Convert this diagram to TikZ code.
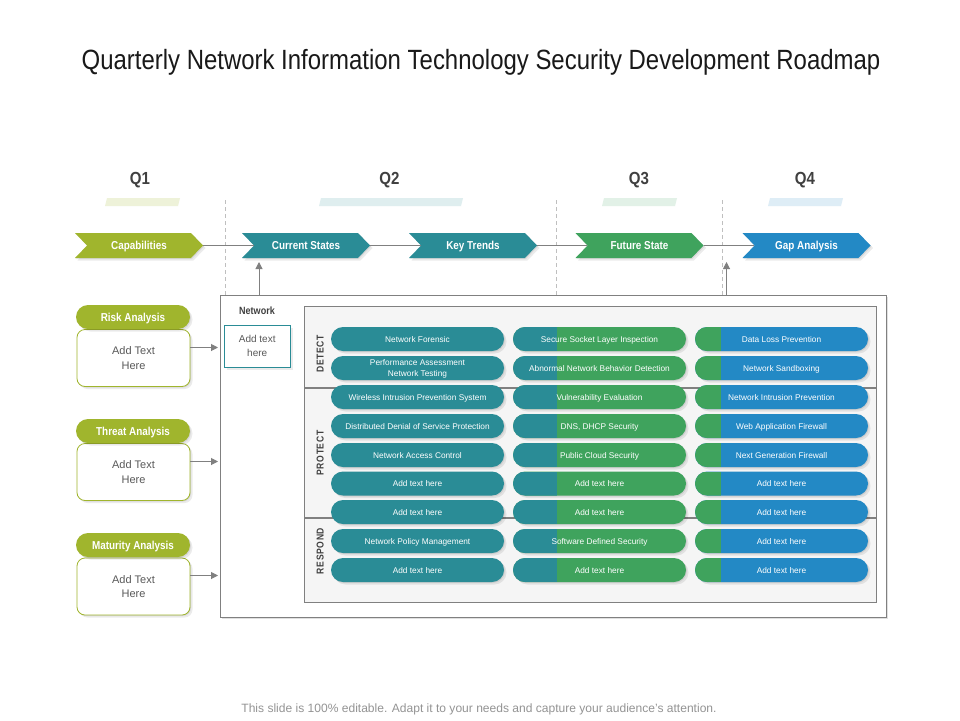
\documentclass[tikz,border=0pt]{standalone}
\usepackage{fontspec}
\setmainfont{Liberation Sans}
\newfontfamily\cond[FakeStretch=0.86]{Liberation Sans}
\newfontfamily\condsp[FakeStretch=0.86,LetterSpace=6]{Liberation Sans}
\usetikzlibrary{shapes.symbols,shadows,arrows.meta,calc}
\definecolor{tealc}{HTML}{2A8C96}
\definecolor{greenc}{HTML}{3FA35D}
\definecolor{bluec}{HTML}{2389C5}
\definecolor{olivec}{HTML}{A0B52D}
\definecolor{linec}{HTML}{808080}
\tikzset{
  x=1pt,y=-1pt,
  softshadow/.style={drop shadow={shadow xshift=1pt,shadow yshift=-1pt,fill=black,opacity=.08},
                     drop shadow={shadow xshift=2.5pt,shadow yshift=-2.5pt,fill=black,opacity=.08}},
  chev/.style={signal,signal to=east,signal from=west,signal pointer angle=92,
     minimum width=128pt,minimum height=25pt,inner sep=0pt,fill=#1,text=white,softshadow,
     text height=8.3pt,text depth=0pt,
     font=\cond\bfseries\fontsize{11.5}{13}\selectfont},
  conn/.style={draw=linec,line width=1pt},
  arrowc/.style={conn,-{Triangle[length=7pt,width=7pt,fill=linec]}},
  qlabel/.style={text height=12.5pt,text depth=0pt,font=\cond\bfseries\fontsize{17.5}{20}\selectfont,text=black!75},
  qbar/.style={fill=#1,draw=none},
  vdash/.style={draw=black!25,dash pattern=on 4pt off 3pt,line width=.7pt},
  pillbase/.style={minimum width=173pt,minimum height=24pt,inner sep=0pt,rounded corners=12pt,
     text=white,align=center,softshadow,text height=6pt,text depth=0pt,font=\fontsize{8.3}{11}\selectfont},
  pilla/.style={pillbase,fill=tealc},
  pillb/.style={pillbase,fill=greenc,path picture={\fill[tealc,sharp corners] (path picture bounding box.south west) rectangle ([xshift=44pt]path picture bounding box.north west);}},
  pillc/.style={pillbase,fill=bluec,path picture={\fill[greenc,sharp corners] (path picture bounding box.south west) rectangle ([xshift=26pt]path picture bounding box.north west);}},
  headpill/.style={minimum width=114pt,minimum height=24pt,inner sep=0pt,rounded corners=12pt,fill=olivec,text=white,softshadow,
     text height=8.3pt,text depth=0pt,font=\cond\bfseries\fontsize{11.5}{13}\selectfont},
  bodybox/.style={minimum width=113pt,minimum height=57pt,inner sep=0pt,rounded corners=8pt,draw=olivec,fill=white,line width=.8pt,softshadow,
     align=center,text=black!65,text height=22.2pt,text depth=0pt,font=\fontsize{11}{14.2}\selectfont},
  sidelabel/.style={rotate=90,text=black!75,text height=7pt,text depth=0pt,font=\condsp\bfseries\fontsize{10}{12}\selectfont},
}
\begin{document}
\begin{tikzpicture}
\useasboundingbox (0,0) rectangle (960,720);
\fill[white] (0,0) rectangle (960,720);

\node[text height=20pt,text depth=0pt,font=\cond\fontsize{27.85}{32}\selectfont,text=black!90] (title) at (481,59.5) {Quarterly Network Information Technology Security Development Roadmap};

\node[qlabel] (q1) at (140,178) {Q1};
\node[qlabel] (q2) at (389.5,178) {Q2};
\node[qlabel] (q3) at (639,178) {Q3};
\node[qlabel] (q4) at (805,178) {Q4};

\fill[qbar=olivec!18] (107,198) -- (180,198) -- (178,206) -- (105,206) -- cycle;
\fill[qbar=tealc!15] (321,198) -- (463,198) -- (461,206) -- (319,206) -- cycle;
\fill[qbar=greenc!15] (604,198) -- (677,198) -- (675,206) -- (602,206) -- cycle;
\fill[qbar=bluec!15] (770,198) -- (843,198) -- (841,206) -- (768,206) -- cycle;

\draw[vdash] (225,200) -- (225,295);
\draw[vdash] (556.5,200) -- (556.5,295);
\draw[vdash] (722,200) -- (722,295);

% chevrons
\node[chev=olivec] (cap) at (139,245.5) {Capabilities};
\node[chev=tealc] (cur) at (306,245.5) {Current States};
\node[chev=tealc] (key) at (473,245.5) {Key Trends};
\node[chev=greenc] (fut) at (639.5,245.5) {Future State};
\node[chev=bluec] (gap) at (806.5,245.5) {Gap Analysis};
\draw[conn] (cap.east) -- (cur.west);
\draw[conn] (cur.east) -- (key.west);
\draw[conn] (key.east) -- (fut.west);
\draw[conn] (fut.east) -- (gap.west);

% frames
\node[draw=linec,fill=white,line width=1pt,minimum width=666pt,minimum height=322pt,inner sep=0pt,
      drop shadow={shadow xshift=2pt,shadow yshift=-2pt,fill=black,opacity=.12}] (outer) at (553,456) {};
\node[draw=linec,fill=black!4,line width=.8pt,minimum width=572pt,minimum height=296pt,inner sep=0pt] (inner) at (590.5,454) {};
\draw[linec,line width=1.4pt] (inner.west |- 0,388) -- (inner.east |- 0,388);
\draw[linec,line width=1.4pt] (inner.west |- 0,518) -- (inner.east |- 0,518);

\coordinate (up1) at (259,262);
\coordinate (up2) at (726.5,262);
\draw[arrowc] (259,295) -- (up1);
\draw[arrowc] (726.5,295) -- (up2);

\node[text height=7.5pt,text depth=0pt,font=\cond\bfseries\fontsize{10.5}{12}\selectfont,text=black!75] (net) at (257,311) {Network};
\node[draw=tealc,fill=white,line width=.9pt,minimum width=66pt,minimum height=42pt,inner sep=0pt,align=center,softshadow,
      text=black!65,text height=20.7pt,text depth=0pt,font=\fontsize{10}{13.5}\selectfont] (netbox) at (257.2,346) {Add text\\here};

\node[sidelabel] (det) at (320,354) {DETECT};
\node[sidelabel] (pro) at (320,453) {PROTECT};
\node[sidelabel] (res) at (320,551) {RESPOND};

% side blocks
\node[bodybox] (b1) at (133.5,358) {Add Text\\Here};
\node[headpill] (h1) at (133,317) {Risk Analysis};
\node[bodybox] (b2) at (133.5,472) {Add Text\\Here};
\node[headpill] (h2) at (133,431) {Threat Analysis};
\node[bodybox] (b3) at (133.5,586.5) {Add Text\\Here};
\node[headpill] (h3) at (133,545) {Maturity Analysis};
\coordinate (t1) at (218,347.5);
\coordinate (t2) at (218,461.5);
\coordinate (t3) at (218,575.5);
\draw[arrowc] (b1.east |- t1) -- (t1);
\draw[arrowc] (b2.east |- t2) -- (t2);
\draw[arrowc] (b3.east |- t3) -- (t3);

% pills
\node[pilla] (a1) at (417.5,339) {Network Forensic};
\node[pilla,text height=17pt] (a2) at (417.5,368) {Performance Assessment\\Network Testing};
\node[pilla] (a3) at (417.5,397) {Wireless Intrusion Prevention System};
\node[pilla] (a4) at (417.5,426) {Distributed Denial of Service Protection};
\node[pilla] (a5) at (417.5,455) {Network Access Control};
\node[pilla] (a6) at (417.5,483.5) {Add text here};
\node[pilla] (a7) at (417.5,512) {Add text here};
\node[pilla] (a8) at (417.5,541) {Network Policy Management};
\node[pilla] (a9) at (417.5,570) {Add text here};

\node[pillb] (m1) at (599.5,339) {Secure Socket Layer Inspection};
\node[pillb] (m2) at (599.5,368) {Abnormal Network Behavior Detection};
\node[pillb] (m3) at (599.5,397) {Vulnerability Evaluation};
\node[pillb] (m4) at (599.5,426) {DNS, DHCP Security};
\node[pillb] (m5) at (599.5,455) {Public Cloud Security};
\node[pillb] (m6) at (599.5,483.5) {Add text here};
\node[pillb] (m7) at (599.5,512) {Add text here};
\node[pillb] (m8) at (599.5,541) {Software Defined Security};
\node[pillb] (m9) at (599.5,570) {Add text here};

\node[pillc] (c1) at (781.5,339) {Data Loss Prevention};
\node[pillc] (c2) at (781.5,368) {Network Sandboxing};
\node[pillc] (c3) at (781.5,397) {Network Intrusion Prevention};
\node[pillc] (c4) at (781.5,426) {Web Application Firewall};
\node[pillc] (c5) at (781.5,455) {Next Generation Firewall};
\node[pillc] (c6) at (781.5,483.5) {Add text here};
\node[pillc] (c7) at (781.5,512) {Add text here};
\node[pillc] (c8) at (781.5,541) {Add text here};
\node[pillc] (c9) at (781.5,570) {Add text here};

\node[text=black!42,text height=8.6pt,text depth=0pt,font=\fontsize{12.05}{14}\selectfont] (foot) at (479,708) {This slide is 100\% editable. Adapt it to your needs and capture your audience's attention.};
\end{tikzpicture}
\end{document}
